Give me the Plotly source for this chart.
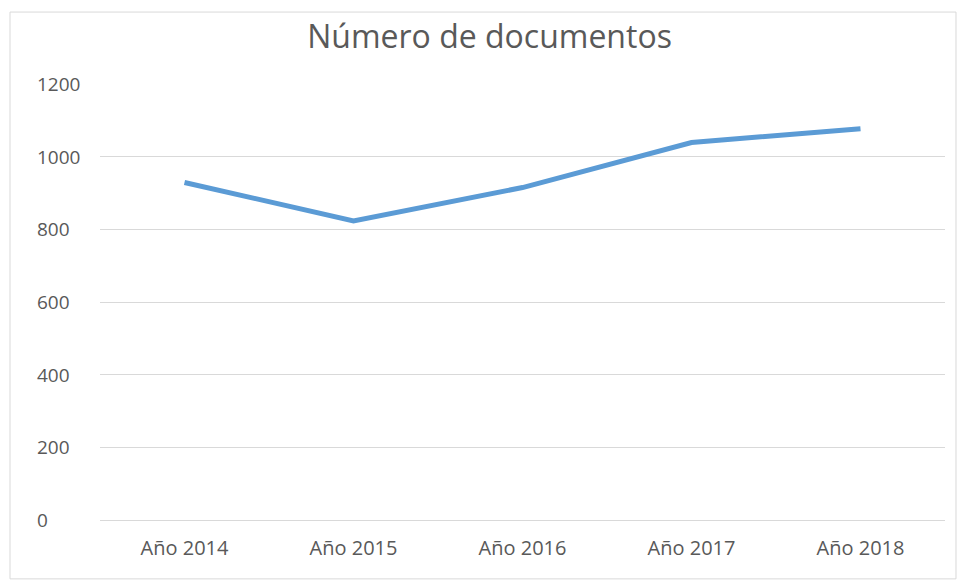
import plotly.graph_objects as go

years = ["Año 2014", "Año 2015", "Año 2016", "Año 2017", "Año 2018"]
documents = [929, 823, 915, 1039, 1077]
y_ticks = [0, 200, 400, 600, 800, 1000, 1200]

FONT = "'Open Sans', sans-serif"
TEXT = "#595959"

fig = go.Figure(
    go.Scatter(
        x=years,
        y=documents,
        mode="lines",
        line=dict(color="#5B9BD5", width=5),
        showlegend=False,
    )
)

# y labels in Excel are left aligned, so draw them as annotations
for t in y_ticks:
    fig.add_annotation(
        x=-0.077, xref="paper", y=t, yref="y",
        text=str(t), showarrow=False, xanchor="left",
        font=dict(family=FONT, size=19, color=TEXT),
    )

# outer chart border
fig.add_shape(
    type="rect", xref="paper", yref="paper",
    x0=-0.1065, x1=1.013, y0=-0.135, y1=1.165,
    line=dict(color="#D9D9D9", width=1),
)

fig.update_layout(
    title=dict(
        text="Número de documentos",
        x=0.511, xref="container", xanchor="center",
        y=0.937, yanchor="middle",
        font=dict(family=FONT, size=32, color=TEXT),
    ),
    width=958,
    height=581,
    plot_bgcolor="white",
    paper_bgcolor="white",
    margin=dict(l=100, r=13, t=84, b=61, autoexpand=False),
)
fig.update_xaxes(
    range=[-0.5, 4.5], automargin=False,
    showgrid=False, showline=False, ticks="",
    tickfont=dict(family=FONT, size=20, color=TEXT),
    ticklabelstandoff=14,
)
fig.update_yaxes(
    range=[0, 1200], tickvals=y_ticks, showticklabels=False, automargin=False,
    gridcolor="#D9D9D9", gridwidth=1, zeroline=True,
    zerolinecolor="#D9D9D9", zerolinewidth=1,
)

fig.write_html(
    "out.html",
    config={"displayModeBar": False},
    post_script="document.body.style.margin='0';",
)
